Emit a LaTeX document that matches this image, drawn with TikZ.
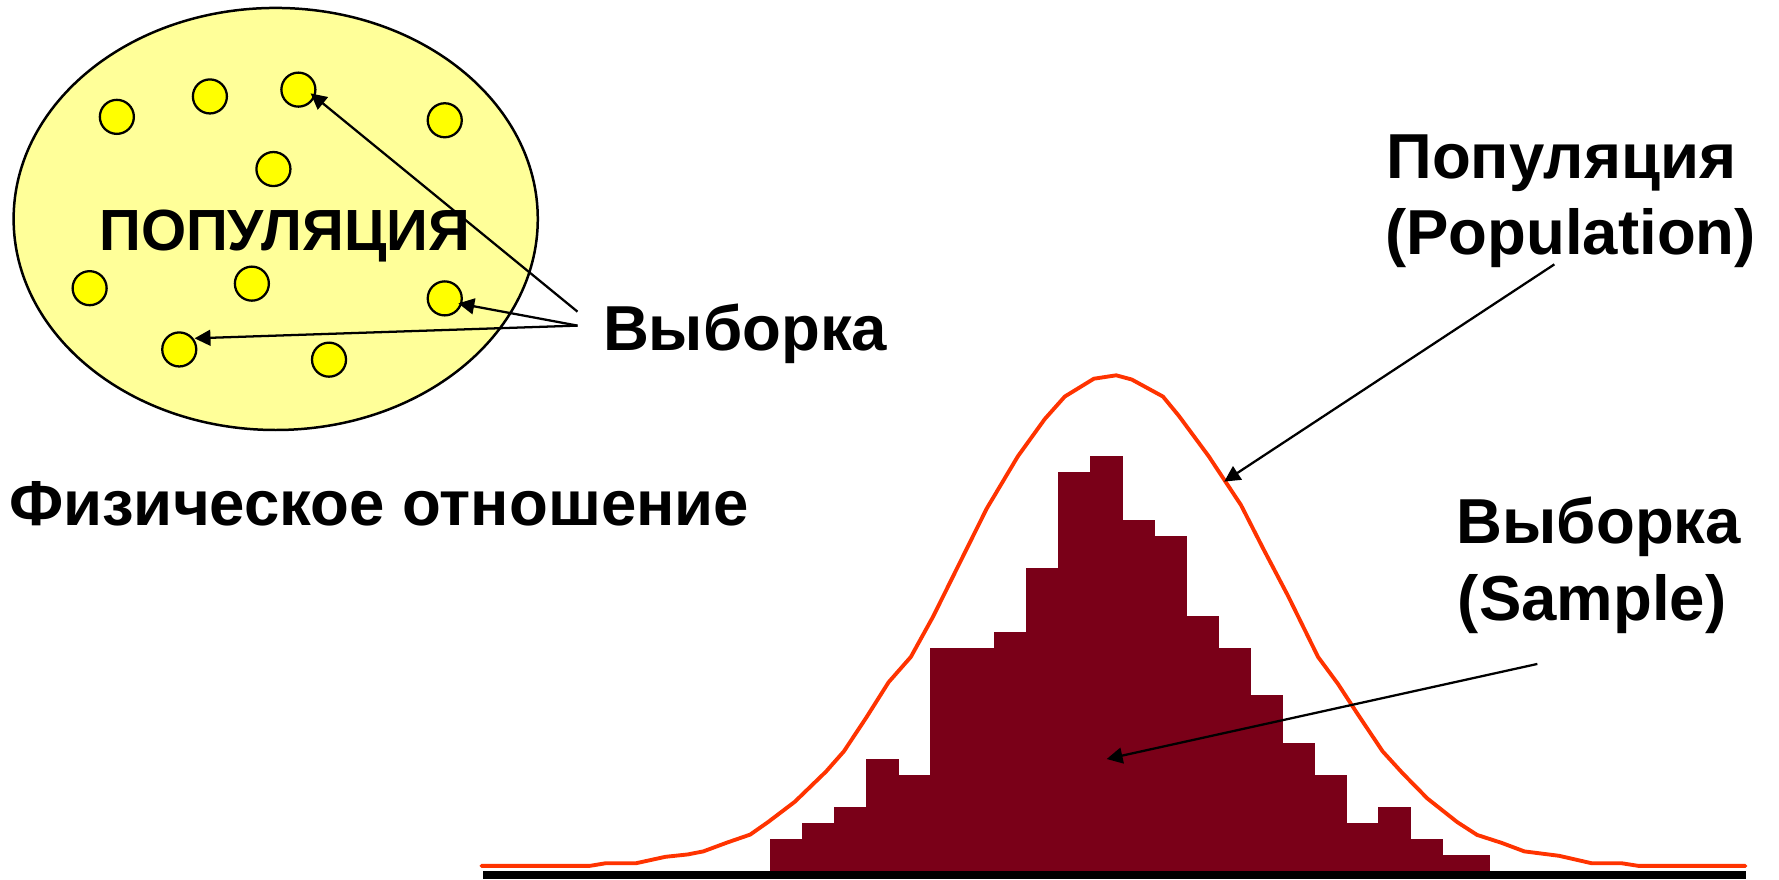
\documentclass[tikz,border=0pt]{standalone}
\usepackage{fontspec}
\setmainfont{Liberation Sans}
\usetikzlibrary{shapes.geometric,arrows.meta,calc}
\definecolor{ellfill}{RGB}{255,255,153}
\definecolor{dotfill}{RGB}{255,255,0}
\definecolor{barred}{RGB}{122,0,24}
\definecolor{curvered}{RGB}{255,51,0}
\begin{document}
\begin{tikzpicture}[x=0.5pt,y=-0.5pt,
  dot/.style={circle,draw=black,line width=1pt,fill=dotfill,minimum size=15pt,inner sep=0pt,outer sep=0pt},
  conn/.style={draw=black,line width=1pt,-{Triangle[length=7pt,width=7pt]}},
  lbl/.style={font=\bfseries\fontsize{28pt}{34pt}\selectfont,inner sep=0pt,outer sep=0pt,anchor=base west},
  bar/.style={fill=barred},
  curve/.style={draw=curvered,line width=1.7pt,line join=round,line cap=round}]
\useasboundingbox (0,0) rectangle (1568,775);

% population ellipse
\node[ellipse,draw=black,line width=1.1pt,fill=ellfill,minimum width=231pt,minimum height=186pt,inner sep=0pt] (pop) at (243,193) {};
\node[lbl,anchor=base,font=\bfseries\fontsize{25.6pt}{30pt}\selectfont] (popword) at (251,221) {ПОПУЛЯЦИЯ};

% dots
\node[dot] (c1) at (103,103) {};
\node[dot] (c2) at (185,85) {};
\node[dot] (c3) at (263,79) {};
\node[dot] (c4) at (392,106) {};
\node[dot] (c5) at (241,149) {};
\node[dot] (c6) at (79,254) {};
\node[dot] (c7) at (222,250) {};
\node[dot] (c8) at (392,263) {};
\node[dot] (c9) at (158,308) {};
\node[dot] (c10) at (290,317) {};

% labels
\node[lbl] (vybL) at (531.5,309) {Выборка};
\node[lbl] (phys) at (8,463) {Физическое отношение};
\node[lbl] (popR) at (1222,157.2) {Популяция};
\node[lbl] (popE) at (1221,224.7) {(Population)};
\node[lbl] (vybR) at (1284,478.9) {Выборка};
\node[lbl] (samE) at (1285,546.5) {(Sample)};

% histogram
\foreach \h [count=\i from 0] in {2,3,4,7,6,14,14,15,19,25,26,22,21,16,14,11,8,6,3,4,2}
  \fill[bar] ({678.7+\i*28.2},767.7) rectangle ++(28.7,{-\h*14.07});
\fill[bar] (1270.9,767.7) rectangle (1313.2,753.6);

% population curve
\draw[curve] (424.3,763.2) -- (519.6,763.2) -- (534.2,760.8) -- (560.8,760.8) -- (586.4,755.2) -- (606.1,753.1) -- (619.9,750.4) -- (641.5,742.4) -- (661.2,735.6) -- (676.9,724.6) -- (700.5,706.7) -- (728.1,680) -- (743.8,662.2) -- (763.5,632.5) -- (783.2,601.3) -- (802.8,579) -- (822.5,543.3) -- (846.1,495.7) -- (869.7,448.2) -- (897.2,402.1) -- (920.8,369.4) -- (938.5,349.5) -- (964.1,333.8) -- (983.8,330.8) -- (997.5,334.5) -- (1025,349.5) -- (1039,366.5) -- (1065.3,402.1) -- (1093.8,445.2) -- (1113.5,483.8) -- (1135.4,525.5) -- (1161.7,579) -- (1179.2,602.7) -- (1196.7,629.5) -- (1218.6,662.2) -- (1236.2,681.5) -- (1258.1,703.8) -- (1284.4,724.6) -- (1301.9,735.9) -- (1323.8,743) -- (1343.5,750.4) -- (1374.2,754.3) -- (1402.6,760.8) -- (1428.9,760.8) -- (1444.3,763.2) -- (1538.4,763.2);

% axis
\fill[black] (425.4,767.7) rectangle (1538.6,775);

% arrow end points
\coordinate (sL1) at (509,274.7);
\coordinate (sL2) at (509,287);
\coordinate (t3) at ($(c3)+(10.8,3.3)$);
\coordinate (t8) at ($(c8)+(12,4.4)$);
\coordinate (t9) at ($(c9)+(13.5,-9.8)$);
\coordinate (sP) at (1370,233);
\coordinate (tP) at (1079,424.5);
\coordinate (sS) at (1355,585.2);
\coordinate (tS) at (975.4,669);

\draw[conn] (sL1) -- (t3);
\draw[conn] (sL2) -- (t8);
\draw[conn] (sL2) -- (t9);
\draw[conn] (sP) -- (tP);
\draw[conn] (sS) -- (tS);
\end{tikzpicture}
\end{document}
